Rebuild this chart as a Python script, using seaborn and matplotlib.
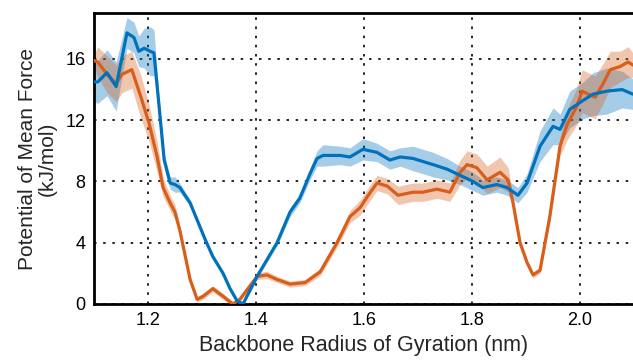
import numpy as np
import pandas as pd
import matplotlib
matplotlib.use("Agg")
import matplotlib.pyplot as plt
import seaborn as sns

# Blue series
blue_x = [1.100, 1.107, 1.124, 1.141, 1.161, 1.174, 1.183, 1.193, 1.204, 1.211,
          1.220, 1.230, 1.241, 1.250, 1.259, 1.278, 1.306, 1.320, 1.339, 1.352,
          1.365, 1.376, 1.402, 1.439, 1.463, 1.481, 1.500, 1.513, 1.524, 1.556,
          1.574, 1.598, 1.624, 1.648, 1.667, 1.691, 1.728, 1.754, 1.778, 1.802,
          1.820, 1.846, 1.865, 1.885, 1.902, 1.926, 1.950, 1.963, 1.981, 2.006,
          2.024, 2.050, 2.078, 2.098]
blue_y = [14.5, 14.5, 15.1, 14.2, 17.7, 17.4, 16.5, 16.7, 16.5, 16.4,
          13.1, 9.4, 7.9, 7.8, 7.6, 6.6, 4.2, 3.1, 2.0, 1.0,
          0.2, 0.0, 1.8, 4.0, 6.0, 6.9, 8.5, 9.5, 9.7, 9.7,
          9.6, 10.1, 9.9, 9.4, 9.6, 9.5, 9.1, 8.8, 8.4, 8.0,
          7.6, 7.8, 7.6, 7.1, 7.9, 10.3, 11.6, 11.4, 12.7, 13.3,
          13.7, 13.9, 14.0, 13.7]
blue_err = [1.3, 1.4, 1.5, 1.6, 1.0, 1.0, 1.0, 1.3, 1.6, 1.5,
            0.6, 0.4, 0.4, 0.5, 0.3, 0.2, 0.15, 0.15, 0.15, 0.1,
            0.1, 0.1, 0.15, 0.2, 0.3, 0.3, 0.4, 0.5, 0.7, 0.6,
            0.6, 0.7, 0.6, 0.6, 0.6, 0.8, 0.8, 0.7, 0.6, 0.6,
            0.5, 0.5, 0.5, 0.5, 0.6, 1.0, 1.2, 1.0, 1.2, 1.2,
            1.4, 1.5, 1.2, 1.0]

# Orange series
orange_x = [1.100, 1.107, 1.124, 1.141, 1.152, 1.170, 1.187, 1.202, 1.217, 1.228,
            1.241, 1.250, 1.259, 1.278, 1.291, 1.302, 1.320, 1.339, 1.357, 1.370,
            1.402, 1.420, 1.439, 1.463, 1.491, 1.519, 1.550, 1.574, 1.593, 1.606,
            1.624, 1.643, 1.663, 1.691, 1.709, 1.735, 1.759, 1.778, 1.791, 1.809,
            1.828, 1.852, 1.867, 1.876, 1.889, 1.902, 1.913, 1.926, 1.944, 1.963,
            1.976, 1.994, 2.004, 2.015, 2.028, 2.043, 2.056, 2.074, 2.089, 2.098]
orange_y = [15.9, 15.8, 15.0, 14.4, 15.0, 15.3, 13.5, 11.8, 9.6, 7.6,
            6.6, 6.0, 4.8, 1.6, 0.3, 0.5, 1.0, 0.5, 0.0, 0.3,
            1.8, 1.9, 1.6, 1.3, 1.4, 2.1, 4.0, 5.7, 6.3, 7.0,
            7.9, 7.7, 7.1, 7.3, 7.3, 7.5, 7.3, 8.6, 9.1, 8.9,
            8.1, 8.6, 8.1, 6.6, 4.0, 2.7, 1.9, 2.2, 5.7, 10.3,
            11.7, 12.9, 13.9, 13.7, 13.5, 14.4, 15.3, 15.5, 15.8, 15.6]
orange_err = [0.4, 1.0, 1.2, 1.2, 1.2, 1.2, 1.4, 1.2, 1.0, 0.6,
              0.5, 0.5, 0.3, 0.2, 0.2, 0.2, 0.2, 0.2, 0.15, 0.15,
              0.2, 0.25, 0.2, 0.2, 0.2, 0.25, 0.3, 0.4, 0.5, 0.5,
              0.5, 0.5, 0.6, 0.6, 0.6, 0.6, 0.6, 0.8, 0.9, 0.9,
              0.9, 1.0, 0.8, 0.3, 0.2, 0.2, 0.2, 0.2, 0.4, 0.6,
              1.0, 1.2, 1.4, 1.4, 1.4, 1.3, 1.2, 1.0, 1.0, 0.8]

x_ticks = [1.2, 1.4, 1.6, 1.8, 2.0]
x_tick_labels = ["1.2", "1.4", "1.6", "1.8", "2.0"]
y_ticks = [0, 4, 8, 12, 16]
y_tick_labels = ["0", "4", "8", "12", "16"]

BLUE = "#0072BD"
ORANGE = "#D95E1A"

sns.set_style("white")
plt.rcParams['font.family'] = ['Liberation Sans', 'DejaVu Sans']

fig = plt.figure(figsize=(6.33, 3.6), dpi=100)
ax = fig.add_axes([94/633, 1-304/360, 540/633, (304-13)/360])

df_b = pd.DataFrame({"x": blue_x, "y": blue_y, "e": blue_err})
df_o = pd.DataFrame({"x": orange_x, "y": orange_y, "e": orange_err})

ax.fill_between(df_b.x, df_b.y - df_b.e, df_b.y + df_b.e, color=BLUE, alpha=0.35, lw=0, zorder=2)
ax.fill_between(df_o.x, df_o.y - df_o.e, df_o.y + df_o.e, color=ORANGE, alpha=0.35, lw=0, zorder=2)
sns.lineplot(data=df_b, x="x", y="y", ax=ax, color=BLUE, lw=2.3, zorder=4, sort=False)
sns.lineplot(data=df_o, x="x", y="y", ax=ax, color=ORANGE, lw=2.3, zorder=3, sort=False)

ax.set_xlim(1.1, 2.1)
ax.set_ylim(0, 19)
ax.set_xticks(x_ticks)
ax.set_xticklabels(x_tick_labels)
ax.set_yticks(y_ticks)
ax.set_yticklabels(y_tick_labels)
ax.tick_params(axis='both', direction='in', length=4, width=1, labelsize=13, colors='black',
               top=False, right=False, pad=6)
ax.grid(True, color='black', linestyle=(0, (1.5, 4)), linewidth=1.2)
ax.set_axisbelow(True)
for s in ax.spines.values():
    s.set_visible(True)
    s.set_color('black')
    s.set_linewidth(2)

ax.set_xlabel("Backbone Radius of Gyration (nm)", fontsize=15.5, labelpad=4)
ax.set_ylabel("Potential of Mean Force\n(kJ/mol)", fontsize=15, labelpad=6, linespacing=1.05)

fig.savefig("out.png", dpi=100)
